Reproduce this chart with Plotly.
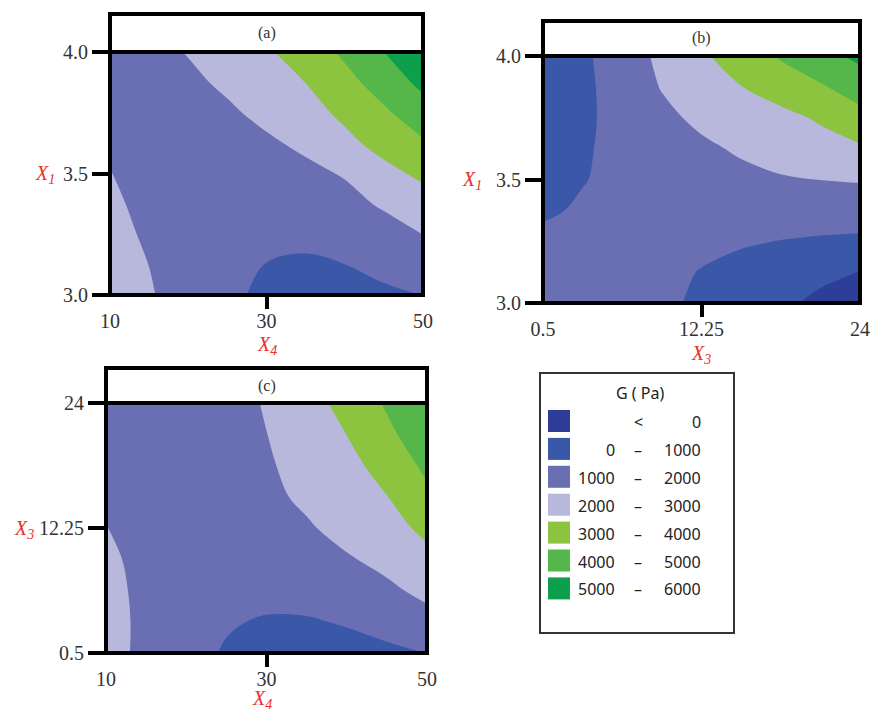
import plotly.graph_objects as go

# ---------------- data ----------------
# panel (a): X4 (x) vs X1 (y)
a_x = [10, 15, 20, 25, 30, 35, 40, 45, 50]
a_y = [3.0, 3.125, 3.25, 3.375, 3.5, 3.625, 3.75, 3.875, 4.0]
a_z = [
    [2260, 2080, 1580, 1080, 920, 780, 770, 870, 1010],
    [2180, 1995, 1650, 1310, 980, 900, 995, 1200, 1450],
    [2130, 1940, 1600, 1350, 1200, 1170, 1300, 1580, 2010],
    [2080, 1880, 1550, 1400, 1370, 1450, 1680, 2130, 2580],
    [2020, 1700, 1540, 1500, 1580, 1760, 2080, 2730, 3200],
    [1900, 1650, 1580, 1650, 1850, 2200, 2760, 3320, 3880],
    [1750, 1640, 1700, 1850, 2250, 2650, 3200, 3850, 4560],
    [1580, 1650, 1800, 2170, 2580, 3010, 3700, 4420, 5250],
    [1450, 1700, 2050, 2480, 2880, 3470, 4170, 4990, 5900],
]
# panel (b): X3 (x) vs X1 (y)
b_x = [0.5, 3.4375, 6.375, 9.3125, 12.25, 15.1875, 18.125, 21.0625, 24.0]
b_y = [3.0, 3.125, 3.25, 3.375, 3.5, 3.625, 3.75, 3.875, 4.0]
b_z = [
    [1650, 1660, 1550, 1200, 820, 500, 180, -200, -500],
    [1420, 1480, 1420, 1230, 960, 700, 450, 220, -20],
    [1200, 1300, 1330, 1300, 1220, 1100, 980, 870, 780],
    [880, 1100, 1250, 1320, 1380, 1450, 1520, 1580, 1620],
    [650, 965, 1200, 1400, 1580, 1760, 1920, 2010, 2050],
    [500, 900, 1250, 1550, 1830, 2120, 2380, 2620, 2870],
    [380, 820, 1320, 1780, 2200, 2500, 2730, 3120, 3680],
    [250, 800, 1400, 2050, 2450, 2980, 3450, 3900, 4450],
    [150, 820, 1530, 2200, 2860, 3470, 4100, 4670, 5230],
]
# panel (c): X4 (x) vs X3 (y)
c_x = [10, 15, 20, 25, 30, 35, 40, 45, 50]
c_y = [0.5, 3.4375, 6.375, 9.3125, 12.25, 15.1875, 18.125, 21.0625, 24.0]
c_z = [
    [2250, 1830, 1380, 900, 680, 600, 650, 800, 1010],
    [2220, 1860, 1400, 1100, 900, 910, 1080, 1350, 1650],
    [2180, 1850, 1500, 1380, 1350, 1400, 1560, 1800, 2260],
    [2120, 1820, 1540, 1480, 1520, 1640, 1900, 2290, 2770],
    [2010, 1720, 1560, 1540, 1640, 1880, 2350, 2700, 3190],
    [1930, 1680, 1560, 1580, 1750, 2200, 2560, 2980, 3790],
    [1860, 1640, 1560, 1620, 1880, 2370, 2740, 3330, 4220],
    [1780, 1600, 1560, 1650, 1990, 2480, 3010, 3780, 4620],
    [1700, 1560, 1540, 1650, 2070, 2650, 3300, 4120, 5030],
]

# tick values / labels
x4_ticks = [10, 30, 50]
x4_text = ["10", "30", "50"]
x3_ticks = [0.5, 12.25, 24]
x3_text = ["0.5", "12.25", "24"]
x1_ticks = [3.0, 3.5, 4.0]
x1_text = ["3.0", "3.5", "4.0"]

panel_labels = ["(a)", "(b)", "(c)"]
x_titles = ["<i>X<sub>4</sub></i>", "<i>X<sub>3</sub></i>", "<i>X<sub>4</sub></i>"]
y_titles = ["<i>X<sub>1</sub></i>", "<i>X<sub>1</sub></i>", "<i>X<sub>3</sub></i>"]

level_edges = [0, 1000, 2000, 3000, 4000, 5000, 6000]
band_colors = ["#2e3e98", "#3b57a8", "#6a6fb4", "#b7b8dc", "#8cc43f", "#55b649", "#0d9f4b"]
legend_title = "G ( Pa)"

# ---------------- layout helpers ----------------
W, H = 872, 711


def px(x):
    return x / W


def py(y):
    return 1 - y / H


n_lv = len(level_edges)
colorscale = [[k / n_lv, band_colors[min(k, len(band_colors) - 1)]] for k in range(n_lv + 1)]

SERIF = "Liberation Serif, Times New Roman, serif"
SANS = "Noto Sans, DejaVu Sans, sans-serif"
RED = "#e8312c"

fig = go.Figure()

panels = [
    dict(x=a_x, y=a_y, z=a_z, box=(110, 14, 52, 423, 295), xt=(x4_ticks, x4_text), yt=(x1_ticks, x1_text),
         xtitle=(267, 345), ytitle=(45, 174)),
    dict(x=b_x, y=b_y, z=b_z, box=(543, 21, 56, 860, 303), xt=(x3_ticks, x3_text), yt=(x1_ticks, x1_text),
         xtitle=(701, 354), ytitle=(472, 180)),
    dict(x=c_x, y=c_y, z=c_z, box=(106, 368, 403, 427, 653), xt=(x4_ticks, x4_text), yt=(x3_ticks, x3_text),
         xtitle=(262, 699), ytitle=(24, 529)),
]

shapes = []
annotations = []
for i, p in enumerate(panels):
    sfx = "" if i == 0 else str(i + 1)
    L, HT, DT, R, B = p["box"]
    fig.add_trace(go.Contour(
        x=p["x"], y=p["y"], z=p["z"], xaxis="x" + sfx, yaxis="y" + sfx,
        autocontour=False,
        contours=dict(start=level_edges[0], end=level_edges[-1], size=level_edges[1] - level_edges[0],
                      coloring="fill", showlines=False),
        colorscale=colorscale, showscale=False,
        line=dict(width=0, smoothing=1.0), hoverinfo="skip",
    ))
    xt_vals, xt_text = p["xt"]
    yt_vals, yt_text = p["yt"]
    fig.update_layout(**{
        "xaxis" + sfx: dict(
            domain=[px(L), px(R)], anchor="y" + sfx, range=[xt_vals[0], xt_vals[-1]],
            automargin=False,
            tickmode="array", tickvals=xt_vals, ticktext=xt_text,
            ticks="outside", ticklen=8, tickwidth=4, tickcolor="rgba(0,0,0,0)",
            minor=dict(tickmode="array", tickvals=[xt_vals[1]], ticks="outside", ticklen=13,
                       tickwidth=4, tickcolor="black", showgrid=False),
            showgrid=False, zeroline=False, showline=False,
            tickfont=dict(family=SERIF, size=20, color="#333"),
        ),
        "yaxis" + sfx: dict(
            domain=[py(B), py(DT)], anchor="x" + sfx, range=[yt_vals[0], yt_vals[-1]],
            automargin=False,
            tickmode="array", tickvals=yt_vals, ticktext=yt_text,
            ticks="outside", ticklen=17, tickwidth=4, tickcolor="black",
            showgrid=False, zeroline=False, showline=False,
            tickfont=dict(family=SERIF, size=20, color="#333"),
        ),
    })
    shapes.append(dict(type="rect", xref="paper", yref="paper", x0=px(L), x1=px(R), y0=py(B), y1=py(HT),
                       line=dict(color="black", width=4), fillcolor="rgba(0,0,0,0)", layer="above"))
    shapes.append(dict(type="line", xref="paper", yref="paper", x0=px(L), x1=px(R), y0=py(DT), y1=py(DT),
                       line=dict(color="black", width=4), layer="above"))
    annotations.append(dict(text=panel_labels[i], x=px((L + R) / 2), y=py((HT + DT) / 2),
                            xref="paper", yref="paper", showarrow=False, xanchor="center", yanchor="middle",
                            font=dict(family=SERIF, size=16, color="#333")))
    annotations.append(dict(text=x_titles[i], x=px(p["xtitle"][0]), y=py(p["xtitle"][1]),
                            xref="paper", yref="paper", showarrow=False, xanchor="center", yanchor="middle",
                            font=dict(family=SERIF, size=20, color=RED)))
    annotations.append(dict(text=y_titles[i], x=px(p["ytitle"][0]), y=py(p["ytitle"][1]),
                            xref="paper", yref="paper", showarrow=False, xanchor="center", yanchor="middle",
                            font=dict(family=SERIF, size=20, color=RED)))

# ---------------- legend ----------------
LB = (540, 373, 734, 633)
shapes.append(dict(type="rect", xref="paper", yref="paper", x0=px(LB[0]), x1=px(LB[2]),
                   y0=py(LB[3]), y1=py(LB[1]), line=dict(color="#333", width=2),
                   fillcolor="white", layer="above"))
annotations.append(dict(text=legend_title, x=px(640), y=py(393), xref="paper", yref="paper",
                        showarrow=False, xanchor="center", yanchor="middle",
                        font=dict(family=SANS, size=16, color="#222")))
row0, dy, sw = 421, 27.9, 22
labels = [("", "<", str(level_edges[0]))] + [
    (str(level_edges[k]), "\u2013", str(level_edges[k + 1])) for k in range(len(level_edges) - 1)
]
for k, (lo, mid, hi) in enumerate(labels):
    yc = row0 + k * dy
    shapes.append(dict(type="rect", xref="paper", yref="paper", x0=px(548), x1=px(548 + sw),
                       y0=py(yc + sw / 2), y1=py(yc - sw / 2), line=dict(width=0),
                       fillcolor=band_colors[k], layer="above"))
    font = dict(family=SANS, size=16, color="#222")
    if lo:
        annotations.append(dict(text=lo, x=px(617), y=py(yc + 1), xref="paper", yref="paper",
                                showarrow=False, xanchor="right", yanchor="middle", font=font))
    annotations.append(dict(text=mid, x=px(638), y=py(yc + 1), xref="paper", yref="paper",
                            showarrow=False, xanchor="center", yanchor="middle", font=font))
    annotations.append(dict(text=hi, x=px(703), y=py(yc + 1), xref="paper", yref="paper",
                            showarrow=False, xanchor="right", yanchor="middle", font=font))

fig.update_layout(
    template="none",
    width=W, height=H, margin=dict(l=0, r=0, t=0, b=0, pad=0, autoexpand=False),
    paper_bgcolor="white", plot_bgcolor="white", showlegend=False,
    shapes=shapes, annotations=annotations,
)

fig.write_html("out.html", config={"displayModeBar": False},
               post_script="document.body.style.margin='0px';document.body.style.overflow='hidden';")
